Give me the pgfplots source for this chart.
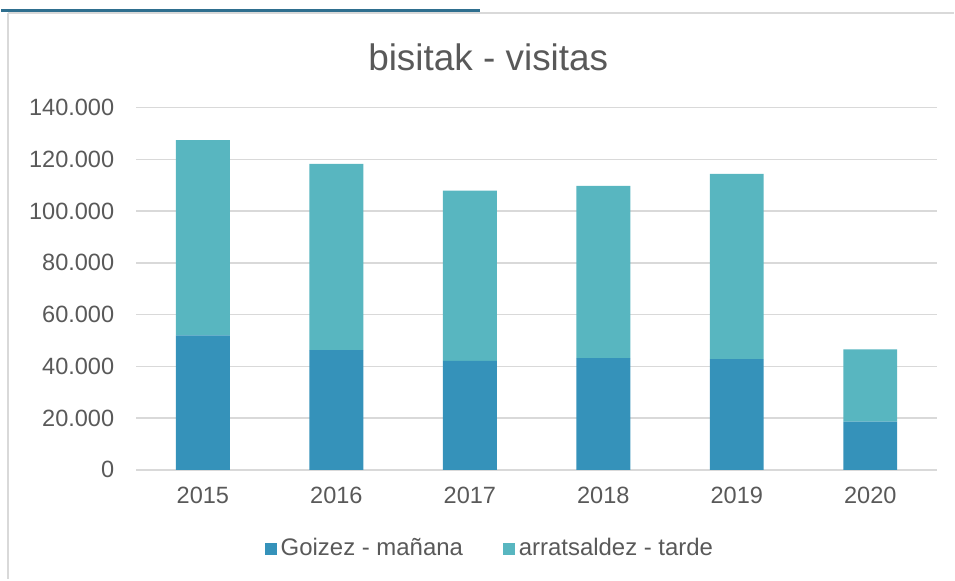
\documentclass[border=0pt]{standalone}
\usepackage{pgfplots}
\pgfplotsset{compat=1.18}
\usepackage{fontspec}
\setmainfont{Liberation Sans}
\definecolor{cMan}{HTML}{3592BA}
\definecolor{cTar}{HTML}{58B6C0}
\definecolor{cGrid}{HTML}{D9D9D9}
\definecolor{cText}{HTML}{595959}
\definecolor{cTop}{HTML}{2F6F8F}
\begin{document}
\begin{tikzpicture}
\path (0,0) rectangle (477.5bp,290.5bp);
\draw[cTop, line width=1.5bp] (0,285.25bp) -- (240bp,285.25bp);
\draw[cGrid, line width=1bp] (3.5bp,284bp) -- (477.5bp,284bp);
\draw[cGrid, line width=1bp] (3.5bp,284bp) -- (3.5bp,0);
\begin{axis}[
  at={(67.5bp,55bp)}, anchor=south west,
  scale only axis, width=401.5bp, height=181.5bp,
  ybar stacked, bar width=27bp,
  xmin=-0.5, xmax=5.5, ymin=0, ymax=140000,
  xtick=data, xticklabels={2015,2016,2017,2018,2019,2020},
  ytick={0,20000,40000,60000,80000,100000,120000,140000},
  yticklabels={0,20.000,40.000,60.000,80.000,100.000,120.000,140.000},
  scaled y ticks=false,
  ymajorgrids, grid style={cGrid, line width=0.75bp},
  axis x line*=bottom, axis y line*=left,
  x axis line style={cGrid, line width=0.75bp, -},
  y axis line style={draw=none},
  major tick length=0pt,
  tick label style={font=\fontsize{11.8bp}{14bp}\selectfont, text=cText},
  yticklabel style={xshift=-7.5bp},
  xticklabel style={yshift=-5bp},
  legend style={at={(0.443,-0.218)}, anchor=center, draw=none, legend columns=2,
    font=\fontsize{12bp}{14bp}\selectfont, text=cText,
    /tikz/every even column/.append style={column sep=18bp}},
  legend image code/.code={\fill[#1] (0bp,-3bp) rectangle (6bp,3bp);},
  legend cell align=left,
]
\addplot[fill=cMan, draw=none] coordinates {(0,52000) (1,46300) (2,42100) (3,43200) (4,42800) (5,18600)};
\addplot[fill=cTar, draw=none] coordinates {(0,75500) (1,72000) (2,65800) (3,66600) (4,71600) (5,28000)};
\legend{Goizez - mañana, arratsaldez - tarde}
\end{axis}
\node[text=cText, font=\fontsize{18.5bp}{22bp}\selectfont] at (244bp,262bp) {bisitak - visitas};
\end{tikzpicture}
\end{document}
